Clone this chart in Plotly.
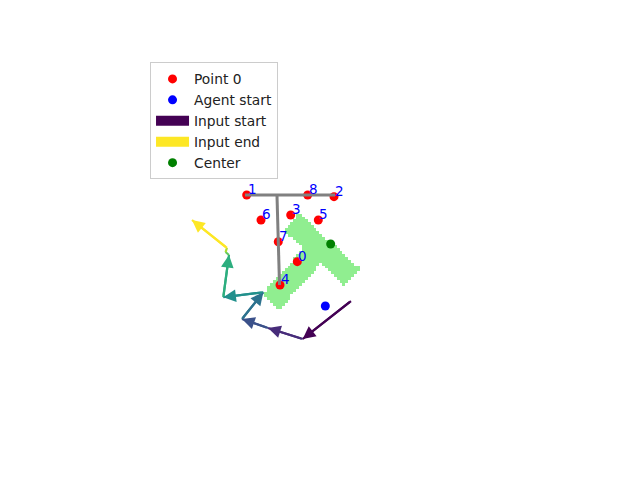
import numpy as np
import plotly.graph_objects as go
from plotly.colors import sample_colorscale

# ---- data (workspace units, y grows downward) ----
point_ids = list(range(9))
point_x = [213.5, 143.5, 264.3, 204.4, 189.6, 242.6, 163.3, 187.2, 227.9]
point_y = [282.6, 190.1, 192.4, 217.8, 315.0, 224.8, 224.8, 254.9, 190.1]

agent_start_x = [252.3]
agent_start_y = [344.1]

center_x = [259.7]
center_y = [258.1]

# gray outline segments (None separates segments)
outline_x = [141.1, 265.7, None, 185.4, 188.9]
outline_y = [190.1, 190.1, None, 190.1, 315.0]

# input (action) path: each consecutive pair is one arrow
path_x = [287.8, 221.0, 173.0, 137.0, 166.5, 111.1, 119.0, 114.2, 116.2, 67.8]
path_y = [337.2, 389.9, 374.6, 362.1, 325.1, 332.0, 273.3, 269.2, 263.6, 224.8]

# T block pose / size (occupancy grid rendering)
t_center = (247.6, 265.8)
t_angle_deg = 42.0
bar_len, bar_w = 114.0, 32.0
stem_len, stem_w = 85.0, 32.0
stem_offset = -4.0
cell = 4.0
workspace = 512.0

# ---- occupancy grid of the T ----
cells = np.arange(cell / 2, workspace, cell)
gx, gy = np.meshgrid(cells, cells)
th = np.deg2rad(t_angle_deg)
d = np.array([np.cos(th), np.sin(th)])
s = np.array([-np.sin(th), np.cos(th)])
px = gx - t_center[0]
py = gy - t_center[1]
a = px * d[0] + py * d[1]
b = px * s[0] + py * s[1]
in_bar = (np.abs(a) <= bar_len / 2) & (np.abs(b) <= bar_w / 2)
in_stem = (np.abs(a - stem_offset) <= stem_w / 2) & (b >= bar_w / 2 - 1) & (b <= bar_w / 2 + stem_len)
mask = np.where(in_bar | in_stem, 1.0, np.nan)

fig = go.Figure()

fig.add_trace(go.Heatmap(
    x=cells, y=cells, z=mask,
    colorscale=[[0, "#90ee90"], [1, "#90ee90"]],
    showscale=False, hoverinfo="skip", zsmooth=False,
))

n_arrows = len(path_x) - 1
arrow_colors = sample_colorscale("Viridis", [i / (n_arrows - 1) for i in range(n_arrows)])

# arrow shafts (so very short arrows remain visible)
for i in range(n_arrows):
    fig.add_trace(go.Scatter(
        x=[path_x[i], path_x[i + 1]], y=[path_y[i], path_y[i + 1]],
        mode="lines", showlegend=False, hoverinfo="skip",
        line=dict(color=arrow_colors[i], width=2.2),
    ))

fig.add_trace(go.Scatter(
    x=point_x, y=point_y, mode="markers", name="Point 0",
    marker=dict(color="#ff0000", size=9),
))
fig.add_trace(go.Scatter(
    x=outline_x, y=outline_y, mode="lines", showlegend=False,
    line=dict(color="#808080", width=3),
))
fig.add_trace(go.Scatter(
    x=agent_start_x, y=agent_start_y, mode="markers", name="Agent start",
    marker=dict(color="#0000ff", size=9),
))
fig.add_trace(go.Scatter(
    x=[None], y=[None], mode="lines", name="Input start",
    line=dict(color=arrow_colors[0], width=10),
))
fig.add_trace(go.Scatter(
    x=[None], y=[None], mode="lines", name="Input end",
    line=dict(color=arrow_colors[-1], width=10),
))
fig.add_trace(go.Scatter(
    x=center_x, y=center_y, mode="markers", name="Center",
    marker=dict(color="#008000", size=9),
))

annotations = []
for i in range(n_arrows):
    annotations.append(dict(
        x=path_x[i + 1], y=path_y[i + 1], ax=path_x[i], ay=path_y[i],
        xref="x", yref="y", axref="x", ayref="y",
        showarrow=True, arrowhead=2, arrowsize=1.15, arrowwidth=2.2,
        arrowcolor=arrow_colors[i], text="", standoff=0,
    ))
for pid, x, y in zip(point_ids, point_x, point_y):
    annotations.append(dict(
        x=x, y=y, xref="x", yref="y", text=str(pid), showarrow=False,
        xanchor="left", yanchor="bottom", yshift=-4, xshift=-1,
        font=dict(color="#0000ff", size=13.5, family="DejaVu Sans"),
    ))

fig.update_layout(
    width=640, height=480,
    margin=dict(l=143, r=127, t=58, b=53),
    paper_bgcolor="white", plot_bgcolor="white",
    xaxis=dict(range=[0, workspace], visible=False, showgrid=False, zeroline=False),
    yaxis=dict(range=[workspace, 0], visible=False, showgrid=False, zeroline=False),
    font=dict(family="DejaVu Sans", size=13.5, color="#222222"),
    legend=dict(
        x=0.019, y=0.988, xanchor="left", yanchor="top",
        bgcolor="white", bordercolor="#cccccc", borderwidth=1,
        font=dict(size=13.8), itemwidth=33,
    ),
    annotations=annotations,
)

fig.write_html("out.html")
